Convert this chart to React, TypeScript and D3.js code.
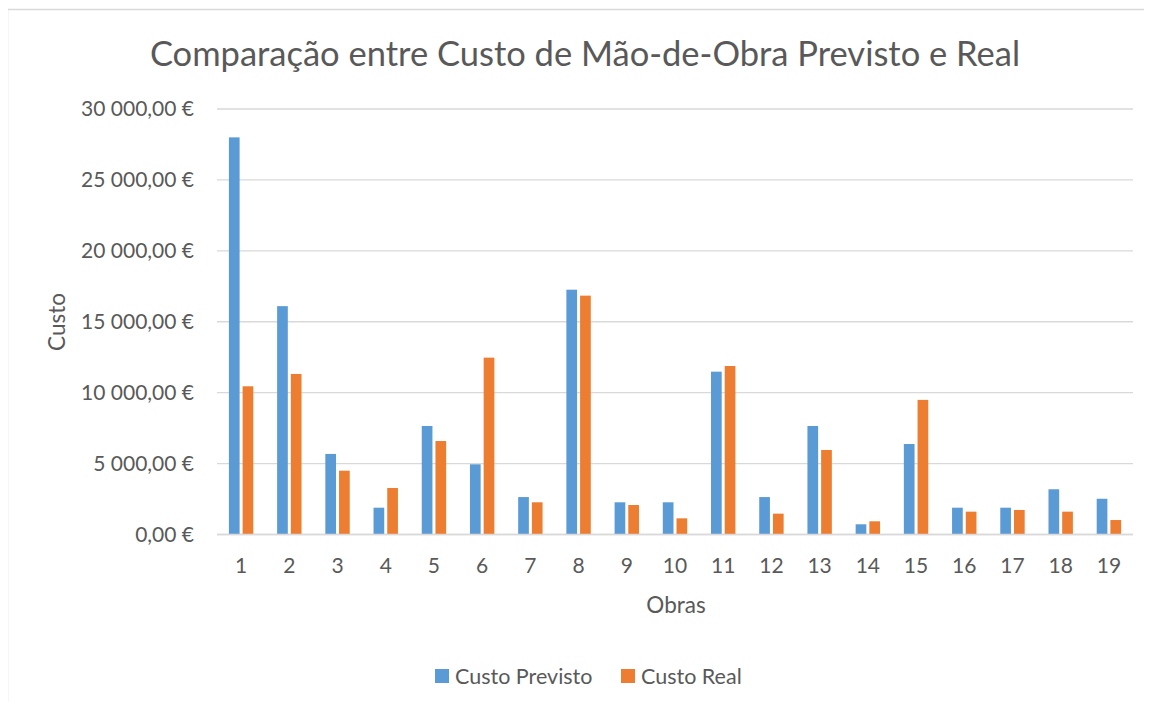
import { useEffect, useRef } from 'react';
import * as d3 from 'd3';

const obras = ['1', '2', '3', '4', '5', '6', '7', '8', '9', '10', '11', '12', '13', '14', '15', '16', '17', '18', '19'];
const custoPrevisto = [28000, 16100, 5680, 1890, 7650, 4950, 2640, 17260, 2270, 2270, 11480, 2640, 7650, 720, 6380, 1890, 1890, 3190, 2520];
const custoReal = [10450, 11320, 4500, 3280, 6590, 12470, 2270, 16840, 2080, 1140, 11880, 1470, 5960, 930, 9490, 1610, 1730, 1610, 1020];
const series = ['Custo Previsto', 'Custo Real'];
const colors = ['#5B9BD5', '#ED7D31'];
const yTicks = [0, 5000, 10000, 15000, 20000, 25000, 30000];

const FONT = 'Lato, "Open Sans", sans-serif';
const TEXT = '#595959';

export default function App() {
  const ref = useRef<HTMLDivElement>(null);
  useEffect(() => {
    const el = ref.current;
    if (!el) return;
    el.innerHTML = '';
    const W = 1152, H = 709;
    const svg = d3.select(el).append('svg').attr('width', W).attr('height', H)
      .style('display', 'block').style('font-family', FONT);
    svg.append('rect').attr('width', W).attr('height', H).attr('fill', '#fff');
    // chart frame (only left/top edges visible in crop)
    svg.append('rect').attr('x', 7.5).attr('y', 9.5).attr('width', W + 20).attr('height', H + 20)
      .attr('fill', 'none').attr('stroke', '#d9d9d9').attr('stroke-width', 1.5);

    const left = 217, right = 1133, top = 109, bottom = 534.5;
    const x = d3.scaleBand().domain(obras).range([left, right]);
    const inner = d3.scaleBand().domain(series).range([-12.2, 12.2]).paddingInner(0.22);
    const y = d3.scaleLinear().domain([0, 30000]).range([bottom, top]);

    svg.append('g').selectAll('line').data(yTicks).enter().append('line')
      .attr('x1', left).attr('x2', right).attr('y1', d => y(d)).attr('y2', d => y(d))
      .attr('stroke', '#d9d9d9').attr('stroke-width', 1.3);

    const fmt = (v: number) => {
      const s = d3.format(',.2f')(v).replace(/,/g, ' ').replace('.', ',');
      return s + ' €';
    };
    svg.append('g').selectAll('text').data(yTicks).enter().append('text')
      .attr('x', 194).attr('y', d => y(d)).attr('dy', '0.35em').attr('text-anchor', 'end')
      .style('font-size', '21px').style('fill', TEXT).text(d => fmt(d));

    const data = [custoPrevisto, custoReal];
    data.forEach((vals, si) => {
      svg.append('g').selectAll('rect').data(vals).enter().append('rect')
        .attr('x', (_, i) => x(obras[i])! + x.bandwidth() / 2 + inner(series[si])!)
        .attr('y', d => y(d)).attr('width', inner.bandwidth()).attr('height', d => bottom - y(d))
        .attr('fill', colors[si]);
    });

    svg.append('line').attr('x1', left).attr('x2', right).attr('y1', bottom).attr('y2', bottom)
      .attr('stroke', '#d9d9d9').attr('stroke-width', 1.3);

    svg.append('g').selectAll('text').data(obras).enter().append('text')
      .attr('x', d => x(d)! + x.bandwidth() / 2).attr('y', 573).attr('text-anchor', 'middle')
      .style('font-size', '21px').style('fill', TEXT).text(d => d);

    svg.append('text').attr('x', 585).attr('y', 66).attr('text-anchor', 'middle')
      .style('font-size', '34.5px').style('fill', TEXT)
      .text('Comparação entre Custo de Mão-de-Obra Previsto e Real');

    svg.append('text').attr('x', 676).attr('y', 613).attr('text-anchor', 'middle')
      .style('font-size', '22.5px').style('fill', TEXT).text('Obras');

    svg.append('text').attr('transform', 'translate(65,322) rotate(-90)').attr('text-anchor', 'middle')
      .style('font-size', '22.5px').style('fill', TEXT).text('Custo');

    const legendX = [435, 621];
    series.forEach((s, i) => {
      svg.append('rect').attr('x', legendX[i]).attr('y', 669).attr('width', 14).attr('height', 14)
        .attr('fill', colors[i]);
      svg.append('text').attr('x', legendX[i] + 20).attr('y', 676).attr('dy', '0.35em')
        .style('font-size', '21.5px').style('fill', TEXT).text(s);
    });
  }, []);
  return <div ref={ref} style={{ width: 1152, height: 709, margin: -8 }} />;
}
